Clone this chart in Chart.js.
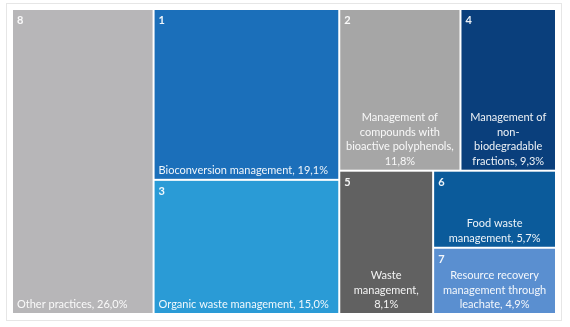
<!DOCTYPE html>
<html>
<head>
<meta charset="utf-8">
<script src="https://cdn.jsdelivr.net/npm/chart.js@4.4.1/dist/chart.umd.min.js"></script>
<style>
  html, body { margin: 0; padding: 0; background: #ffffff; }
  #wrap { position: relative; width: 570px; height: 327px; }
</style>
</head>
<body>
<div id="wrap"><canvas id="c" width="570" height="327"></canvas></div>
<script>
// ---- data ----
const ids = ['1', '2', '3', '4', '5', '6', '7', '8'];
const names = [
  'Bioconversion management',
  'Management of compounds with bioactive polyphenols',
  'Organic waste management',
  'Management of non-biodegradable fractions',
  'Waste management',
  'Food waste management',
  'Resource recovery management through leachate',
  'Other practices'
];
const shares = [19.1, 11.8, 15.0, 9.3, 8.1, 5.7, 4.9, 26.0];
const colors = ['#1b6fba', '#a6a6a6', '#2a9bd6', '#0a3f7c', '#616161', '#0b5b9b', '#5a8fd0', '#b7b6b8'];

// nesting of the treemap (indices into the arrays above); 'h' = side by side, 'v' = stacked
const nesting = ['h', 7, ['v', 0, 2], ['v', ['h', 1, 3], ['h', 4, ['v', 5, 6]]]];

const total = shares.reduce((a, b) => a + b, 0);

function sumOf(node) {
  if (typeof node === 'number') return shares[node];
  return node.slice(1).reduce((a, n) => a + sumOf(n), 0);
}
// layout in value space: x 0..total, y 0..total
function layout(node, x0, y0, x1, y1, out) {
  if (typeof node === 'number') { out.push({ i: node, x0, y0, x1, y1 }); return; }
  const dir = node[0];
  const kids = node.slice(1);
  const s = sumOf(node);
  let pos = dir === 'h' ? x0 : y0;
  kids.forEach(k => {
    const f = sumOf(k) / s;
    if (dir === 'h') {
      const w = (x1 - x0) * f;
      layout(k, pos, y0, pos + w, y1, out);
      pos += w;
    } else {
      const h = (y1 - y0) * f;
      layout(k, x0, pos, x1, pos + h, out);
      pos += h;
    }
  });
}
const cells = [];
layout(nesting, 0, 0, total, total, cells);

const FONT = '"Lato", "Liberation Sans", sans-serif';

function wrapText(ctx, text, maxW) {
  // split into tokens allowing breaks after spaces and hyphens
  const tokens = text.match(/[^\s-]+-?|\s+/g).filter(t => t.trim().length);
  const lines = [];
  let cur = '';
  tokens.forEach(tok => {
    const sep = (cur === '' || cur.endsWith('-')) ? '' : ' ';
    const trial = cur + sep + tok;
    if (cur !== '' && ctx.measureText(trial).width > maxW) {
      lines.push(cur);
      cur = tok;
    } else {
      cur = trial;
    }
  });
  if (cur) lines.push(cur);
  return lines;
}

const treemapPlugin = {
  id: 'treemapCells',
  beforeDraw(chart) {
    const ctx = chart.ctx;
    ctx.save();
    ctx.fillStyle = '#ffffff';
    ctx.fillRect(0, 0, chart.width, chart.height);
    ctx.strokeStyle = '#e6e6e6';
    ctx.lineWidth = 1;
    ctx.strokeRect(6.5, 3.5, 555, 317);
    ctx.restore();
  },
  afterDatasetsDraw(chart) {
    const ctx = chart.ctx;
    const xs = chart.scales.x, ys = chart.scales.y;
    ctx.save();
    cells.forEach(c => {
      const px0 = xs.getPixelForValue(c.x0), px1 = xs.getPixelForValue(c.x1);
      const py0 = ys.getPixelForValue(c.y0), py1 = ys.getPixelForValue(c.y1);
      const left = Math.min(px0, px1) + 1, right = Math.max(px0, px1) - 1;
      const top = Math.min(py0, py1) + 1, bottom = Math.max(py0, py1) - 1;
      ctx.fillStyle = colors[c.i];
      ctx.fillRect(left, top, right - left, bottom - top);

      ctx.fillStyle = 'rgba(255,255,255,0.93)';
      ctx.font = 'bold 11px ' + FONT;
      ctx.textAlign = 'left';
      ctx.textBaseline = 'alphabetic';
      ctx.fillText(ids[c.i], left + 4, top + 14);

      ctx.font = '11px ' + FONT;
      const label = names[c.i] + ', ' + shares[c.i].toFixed(1).replace('.', ',') + '%';
      const lines = wrapText(ctx, label, right - left - 8);
      const lh = 14.5;
      const multi = lines.length > 1;
      ctx.textAlign = multi ? 'center' : 'left';
      const tx = multi ? (left + right) / 2 : left + 4;
      lines.forEach((ln, k) => {
        const y = bottom - 5 - (lines.length - 1 - k) * lh;
        ctx.fillText(ln, tx, y);
      });
    });
    ctx.restore();
  }
};

new Chart(document.getElementById('c'), {
  type: 'scatter',
  data: { datasets: [{ data: [] }] },
  options: {
    responsive: false,
    animation: false,
    layout: { padding: { left: 12, top: 9, right: 14, bottom: 13 } },
    plugins: { legend: { display: false }, tooltip: { enabled: false } },
    scales: {
      x: { type: 'linear', min: 0, max: total, display: false },
      y: { type: 'linear', min: 0, max: total, reverse: true, display: false }
    }
  },
  plugins: [treemapPlugin]
});
</script>
</body>
</html>
